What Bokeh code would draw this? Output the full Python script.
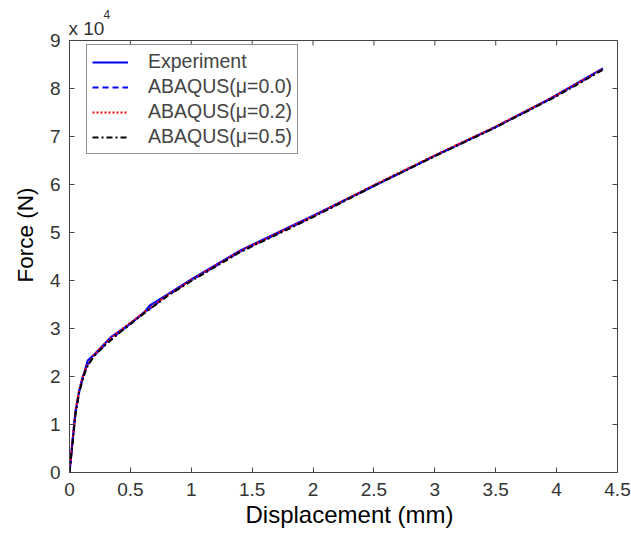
import math
from bokeh.plotting import figure
from bokeh.models import (FixedTicker, CustomJSTickFormatter, Title,
                          Legend, LegendItem, Range1d)
from bokeh.embed import file_html
from bokeh.resources import INLINE

# Displacement (mm) / Force (N)
exp_x = [0, 0.02, 0.05, 0.08, 0.11, 0.13, 0.15, 0.2, 0.34, 0.5, 0.62, 0.66, 0.8, 1.0, 1.4,
         2.0, 2.69, 3.0, 3.5, 3.92, 4.38]
exp_y = [0, 5300, 12900, 17000, 20000, 21500, 23300, 24500, 28200, 31000, 33500, 34800,
         37000, 40200, 46200, 53500, 62100, 66000, 72000, 77500, 84200]

abq_x = [0, 0.02, 0.05, 0.08, 0.11, 0.14, 0.2, 0.3, 0.4, 0.5, 0.6, 0.8, 1.0, 1.4, 2.0,
         2.5, 3.0, 3.5, 4.0, 4.38]
abq_mu00 = [0, 5000, 12500, 17000, 19800, 22000, 24300, 26800, 29000, 31000, 33000, 36800,
            40000, 46000, 53300, 59800, 66000, 72000, 78500, 84000]
abq_mu02 = [0, 5400, 12900, 17300, 20000, 22100, 24500, 27100, 29300, 31200, 33100, 36900,
            40100, 46100, 53400, 59900, 66100, 72100, 78600, 84100]
abq_mu05 = [0, 4800, 12200, 16700, 19500, 21800, 24200, 26700, 28900, 30900, 32900, 36700,
            39900, 45900, 53200, 59700, 65900, 71900, 78400, 83900]

x_ticks = [0, 0.5, 1, 1.5, 2, 2.5, 3, 3.5, 4, 4.5]
y_ticks = [0, 10000, 20000, 30000, 40000, 50000, 60000, 70000, 80000, 90000]

FONT = "Liberation Sans"
AX = "#444444"

p = figure(width=631, height=536, output_backend="svg", toolbar_location=None,
           x_range=Range1d(x_ticks[0], x_ticks[-1]), y_range=Range1d(y_ticks[0], y_ticks[-1]),
           min_border_left=69, min_border_right=14, min_border_top=40, min_border_bottom=64)
p.xgrid.visible = False
p.ygrid.visible = False
p.outline_line_color = AX
p.background_fill_color = "white"
p.border_fill_color = "white"

r_exp = p.line(exp_x, exp_y, line_color="#0000ff", line_width=2.2)
r_00 = p.line(abq_x, abq_mu00, line_color="#0000ff", line_width=2, line_dash="6 4")
r_02 = p.line(abq_x, abq_mu02, line_color="#ff0000", line_width=2, line_dash="2 2")
r_05 = p.line(abq_x, abq_mu05, line_color="#000000", line_width=2, line_dash="6 3 2 3")

# inward ticks on the top and right edges of the box (outer half clipped by the frame)
p.scatter(x_ticks, [y_ticks[-1]] * len(x_ticks), marker="dash", size=10,
          angle=math.pi / 2, line_color=AX, line_width=1)
p.scatter([x_ticks[-1]] * len(y_ticks), y_ticks, marker="dash", size=10,
          line_color=AX, line_width=1)


def style_axis(ax):
    ax.major_tick_in = 5
    ax.major_tick_out = 0
    ax.minor_tick_in = 0
    ax.minor_tick_out = 0
    ax.axis_line_color = AX
    ax.major_tick_line_color = AX
    ax.major_label_text_font = FONT
    ax.major_label_text_font_size = "19px"
    ax.major_label_text_color = "#333333"


xa = p.xaxis[0]
xa.ticker = FixedTicker(ticks=x_ticks)
style_axis(xa)
xa.major_label_standoff = 10

ya = p.yaxis[0]
ya.ticker = FixedTicker(ticks=y_ticks)
ya.formatter = CustomJSTickFormatter(code="return (tick/1e4).toFixed(0);")
style_axis(ya)
ya.major_label_standoff = 9

# axis titles
p.add_layout(Title(text="Displacement (mm)", align="left", offset=176, standoff=0,
                   vertical_align="bottom", text_font=FONT, text_font_size="24px",
                   text_font_style="normal", text_color="black"), "below")
p.add_layout(Title(text="Force (N)", align="left", offset=190, standoff=18,
                   text_font=FONT, text_font_size="22.5px",
                   text_font_style="normal", text_color="black"), "left")

legend = Legend(items=[
    LegendItem(label="Experiment", renderers=[r_exp]),
    LegendItem(label="ABAQUS(\u03bc=0.0)", renderers=[r_00]),
    LegendItem(label="ABAQUS(\u03bc=0.2)", renderers=[r_02]),
    LegendItem(label="ABAQUS(\u03bc=0.5)", renderers=[r_05]),
])
legend.margin = 0
legend.location = (17, 318)
legend.padding = 5
legend.spacing = 2
legend.label_height = 20
legend.glyph_height = 20
legend.glyph_width = 36
legend.label_standoff = 20
legend.label_text_font = FONT
legend.label_text_font_size = "19.5px"
legend.border_line_color = "#222222"
legend.border_line_width = 1.3
legend.background_fill_alpha = 1
p.add_layout(legend, "center")

p.add_layout(Title(text="x 10", align="left", offset=-1, standoff=3, text_font=FONT,
                   text_font_size="19px", text_font_style="normal", text_color="#333333"),
             "above")
p.add_layout(Title(text="4", align="left", offset=34, standoff=-8, text_font=FONT,
                   text_font_size="12px", text_font_style="normal", text_color="#333333"),
             "above")

open("out.html", "w").write(file_html(p, INLINE))
